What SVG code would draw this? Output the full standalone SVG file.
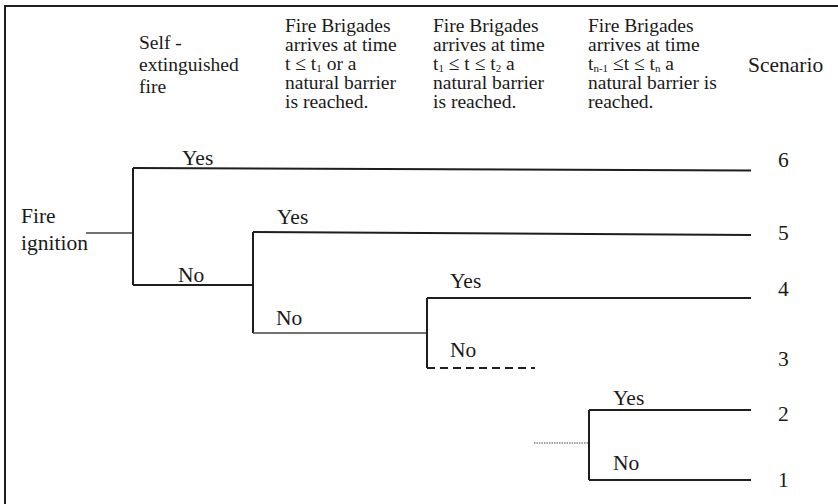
<svg xmlns="http://www.w3.org/2000/svg" width="838" height="504" viewBox="0 0 838 504" font-family="'Liberation Serif', 'Times New Roman', 'DejaVu Serif', serif">
<style>
text{fill:#1a1a1a}
.h{font-size:19.5px}
.lb{font-size:21.5px}
.ln{stroke:#1e1e1e;stroke-width:2;fill:none}
.thin{stroke:#444;stroke-width:1.3;fill:none}
.sub{font-size:11px}
</style>
<rect width="838" height="504" fill="#fff"/>
<g id="frame">
<path class="ln" d="M5,504 V6 H838"/>
</g>
<g id="headers">
<text class="h"><tspan x="139" y="49">Self -</tspan><tspan x="139" y="71">extinguished</tspan><tspan x="139" y="93">fire</tspan></text>
<text class="h"><tspan x="285" y="32">Fire Brigades</tspan><tspan x="285" y="51">arrives at time</tspan><tspan x="285" y="70">t ≤ t<tspan class="sub" dy="2">1</tspan><tspan dy="-2"> or a</tspan></tspan><tspan x="285" y="89">natural barrier</tspan><tspan x="285" y="108">is reached.</tspan></text>
<text class="h"><tspan x="433" y="32">Fire Brigades</tspan><tspan x="433" y="51">arrives at time</tspan><tspan x="433" y="70">t<tspan class="sub" dy="2">1</tspan><tspan dy="-2"> ≤ t ≤ t</tspan><tspan class="sub" dy="2">2</tspan><tspan dy="-2"> a</tspan></tspan><tspan x="433" y="89">natural barrier</tspan><tspan x="433" y="108">is reached.</tspan></text>
<text class="h"><tspan x="588" y="32">Fire Brigades</tspan><tspan x="588" y="51">arrives at time</tspan><tspan x="588" y="70">t<tspan class="sub" dy="2">n-1</tspan><tspan dy="-2"> ≤t ≤ t</tspan><tspan class="sub" dy="2">n</tspan><tspan dy="-2"> a</tspan></tspan><tspan x="588" y="89">natural barrier is</tspan><tspan x="588" y="108">reached.</tspan></text>
<text class="lb" x="748" y="72">Scenario</text>
</g>
<g id="connectors">
<path class="thin" d="M86,233 H133"/>
<path class="ln" d="M133,168 V285"/>
<path class="ln" d="M133,168 L751,170.5"/>
<path class="ln" d="M133,285 H253"/>
<path class="ln" d="M253,232 V333"/>
<path class="ln" d="M253,232 L751,235"/>
<path class="thin" d="M253,333 H427"/>
<path class="ln" d="M427,298 V368"/>
<path class="ln" d="M427,298 H751"/>
<path class="ln" d="M427,368 H535" stroke-dasharray="8,5"/>
<path d="M534,443 H589" stroke="#444" stroke-width="1.2" stroke-dasharray="1.5,1"/>
<path class="ln" d="M589,410 V480"/>
<path class="ln" d="M589,410 H751"/>
<path class="ln" d="M589,480 H751"/>
</g>
<g id="n-ignition"><text class="lb"><tspan x="21" y="223">Fire</tspan><tspan x="21" y="250">ignition</tspan></text></g>
<g id="labels">
<text class="lb" x="182" y="165">Yes</text>
<text class="lb" x="178" y="282">No</text>
<text class="lb" x="277" y="224">Yes</text>
<text class="lb" x="276" y="325">No</text>
<text class="lb" x="450" y="288">Yes</text>
<text class="lb" x="450" y="357">No</text>
<text class="lb" x="613" y="405">Yes</text>
<text class="lb" x="613" y="470">No</text>
</g>
<g id="scenarios">
<text class="lb" x="778" y="167">6</text>
<text class="lb" x="778" y="240">5</text>
<text class="lb" x="778" y="296">4</text>
<text class="lb" x="778" y="366">3</text>
<text class="lb" x="778" y="421">2</text>
<text class="lb" x="778" y="487">1</text>
</g>
</svg>
